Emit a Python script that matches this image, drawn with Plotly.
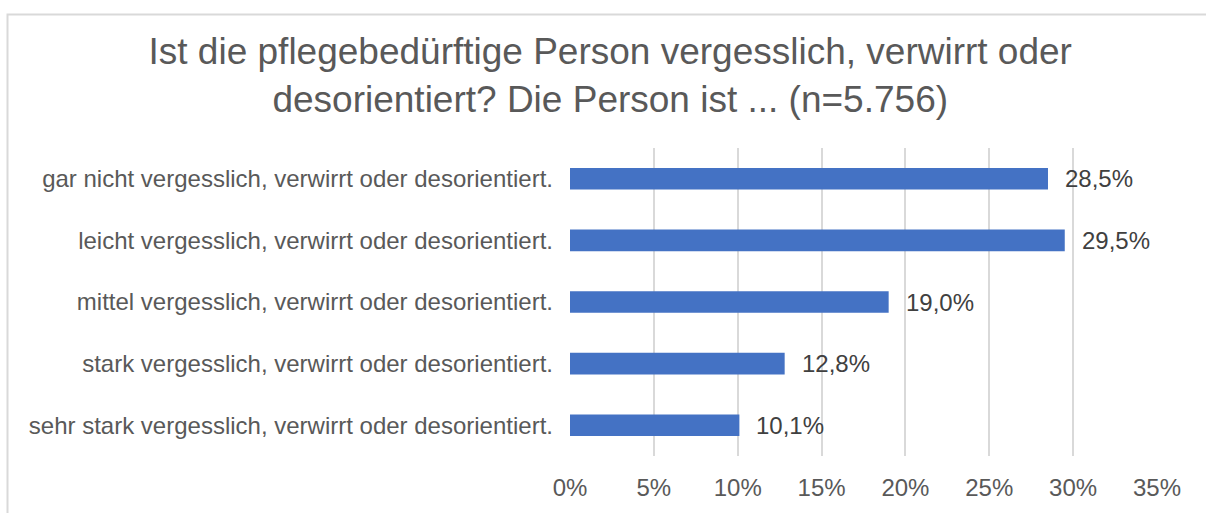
import plotly.graph_objects as go

categories = [
    "gar nicht vergesslich, verwirrt oder desorientiert.",
    "leicht vergesslich, verwirrt oder desorientiert.",
    "mittel vergesslich, verwirrt oder desorientiert.",
    "stark vergesslich, verwirrt oder desorientiert.",
    "sehr stark vergesslich, verwirrt oder desorientiert.",
]
values = [28.5, 29.5, 19.0, 12.8, 10.1]
tick_values = [0, 5, 10, 15, 20, 25, 30, 35]
tick_labels = ["0%", "5%", "10%", "15%", "20%", "25%", "30%", "35%"]
title_text = ("Ist die pflegebedürftige Person vergesslich, verwirrt oder<br>"
              "desorientiert? Die Person ist ... (n=5.756)")

labels = [f"{v:.1f}".replace(".", ",") + "%" for v in values]

FONT = "Liberation Sans, Arial, sans-serif"

fig = go.Figure()
fig.add_trace(go.Bar(
    x=values,
    y=categories,
    orientation="h",
    marker=dict(color="#4472C4", line=dict(width=0)),
    width=0.35,
    hoverinfo="skip",
))

for c, v, t in zip(categories, values, labels):
    fig.add_annotation(
        x=v, y=c, text=t, showarrow=False, xanchor="left", xshift=15,
        font=dict(family=FONT, size=24, color="#404040"),
    )

W, H = 1206, 513
ml, mr, mt, mb = 570, 49, 148, 48
pw, ph = W - ml - mr, H - mt - mb
# outer chart border (in paper coordinates)
fig.add_shape(
    type="rect", xref="paper", yref="paper",
    x0=(7.5 - ml) / pw, x1=(W + 20 - ml) / pw,
    y0=-(mb + 20) / ph, y1=1 + (mt - 10.5) / ph,
    line=dict(color="#d9d9d9", width=2), fillcolor="rgba(0,0,0,0)", layer="below",
)

fig.update_layout(
    width=W, height=H,
    margin=dict(l=ml, r=mr, t=mt, b=mb),
    paper_bgcolor="white", plot_bgcolor="white",
    showlegend=False,
    title=dict(
        text=title_text, x=0.506, xanchor="center", xref="container",
        y=1 - 64 / H, yanchor="middle", yref="container",
        font=dict(family=FONT, size=37, color="#595959"),
    ),
    xaxis=dict(
        range=[0, 35], tickvals=tick_values, ticktext=tick_labels,
        showgrid=True, gridcolor="#d9d9d9", gridwidth=2,
        zeroline=False, showline=False, ticks="",
        tickfont=dict(family=FONT, size=24, color="#595959"),
        ticklabelstandoff=15,
    ),
    yaxis=dict(
        categoryorder="array", categoryarray=categories[::-1],
        showgrid=False, zeroline=False, showline=False, ticks="",
        tickfont=dict(family=FONT, size=24, color="#595959"),
        ticklabelstandoff=16,
    ),
)

fig.write_html("out.html", config={"displayModeBar": False},
               post_script="document.body.style.margin='0';")
